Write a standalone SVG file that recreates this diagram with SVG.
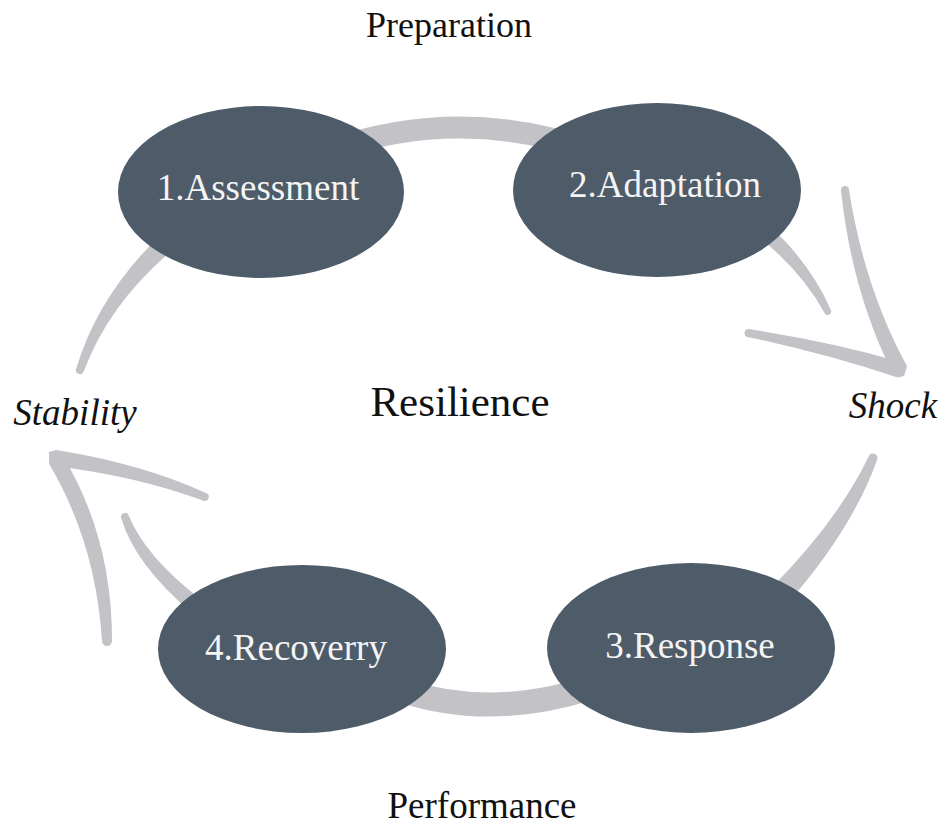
<svg xmlns="http://www.w3.org/2000/svg" width="944" height="828" viewBox="0 0 944 828">
<style>
.arc{fill:none;stroke:#c3c2c6;stroke-linecap:round;stroke-linejoin:round}
.sh{fill:#c3c2c6;stroke:none}
.node{fill:#4e5b69}
.nt{font-family:"Liberation Serif","Times New Roman",serif;font-size:37px;fill:#f4f4f4;text-anchor:middle}
.lbl{font-family:"Liberation Serif","Times New Roman",serif;font-size:37px;fill:#111;text-anchor:middle}
</style>
<rect width="944" height="828" fill="#ffffff"/>
<g id="connectors">
  <path class="arc" d="M 330 150 Q 460 105 590 150" stroke-width="22"/>
  <path class="arc" d="M 400 690 Q 490 720 590 688" stroke-width="24"/>
  <path class="sh" d="M 168.5 227.4 Q 99.2 291.1 76.2 368.7 A 4 4 0 0 0 83.8 371.3 Q 110.8 298.9 181.5 242.6 Z"/>
  <path class="sh" d="M 868.8 456.3 Q 837.9 520.4 771.9 587.5 L 788.1 602.5 Q 852.1 529.6 877.2 459.7 A 4.5 4.5 0 0 0 868.8 456.3 Z"/>
  <path class="sh" d="M 754.9 234.2 Q 800.3 268.7 824.9 313.5 A 3.5 3.5 0 0 0 831.1 310.5 Q 809.7 261.3 765.1 221.8 Z"/>
  <path class="sh" d="M 841 190.5 Q 851.8 292 892.9 373.7 L 907.1 366.3 Q 864.2 288 849 189.5 A 4 4 0 0 0 841 190.5 Z"/>
  <path class="sh" d="M 747.3 336.9 Q 828.4 354.3 897.6 377.6 L 902.4 362.4 Q 831.6 341.7 748.7 329.1 A 4 4 0 0 0 747.3 336.9 Z"/>
  <polygon class="sh" points="907.1,366.3 904,376 897.6,377.6 899,368"/>
  <path class="sh" d="M 121.2 518.3 Q 134.7 563.7 189.9 611.2 L 200.1 598.8 Q 145.3 556.3 128.8 515.7 A 4 4 0 0 0 121.2 518.3 Z"/>
  <path class="sh" d="M 206.5 493.3 Q 141.7 463.7 56.1 450.1 L 53.9 465.9 Q 138.3 476.3 203.5 500.7 A 4 4 0 0 0 206.5 493.3 Z"/>
  <path class="sh" d="M 62.9 455.9 Q 112.2 537.6 112 640.9 A 5 5 0 0 1 102 641.2 Q 95.8 542.4 49.1 464.1 Z"/>
  <polygon class="sh" points="56.1,450.1 49,452 49.1,464.1 60,462"/>
</g>
<g id="node1">
  <ellipse class="node" cx="261" cy="192" rx="143" ry="86"/>
  <text class="nt" x="258" y="200">1.Assessment</text>
</g>
<g id="node2">
  <ellipse class="node" cx="657" cy="190" rx="144" ry="87"/>
  <text class="nt" x="665" y="197">2.Adaptation</text>
</g>
<g id="node3">
  <ellipse class="node" cx="691" cy="648" rx="144" ry="85"/>
  <text class="nt" x="690" y="658">3.Response</text>
</g>
<g id="node4">
  <ellipse class="node" cx="302" cy="649" rx="144" ry="84"/>
  <text class="nt" x="296" y="660">4.Recoverry</text>
</g>
<g id="labels">
  <text class="lbl" x="449" y="37" style="font-size:36px">Preparation</text>
  <text class="lbl" x="482" y="818">Performance</text>
  <text class="lbl" x="460" y="416" style="font-family:'Liberation Serif','Times New Roman',serif;font-size:43px">Resilience</text>
  <text class="lbl" x="75" y="425" style="font-family:'Liberation Serif','Times New Roman',serif;font-style:italic">Stability</text>
  <text class="lbl" x="893" y="418" style="font-family:'Liberation Serif','Times New Roman',serif;font-style:italic">Shock</text>
</g>
</svg>
